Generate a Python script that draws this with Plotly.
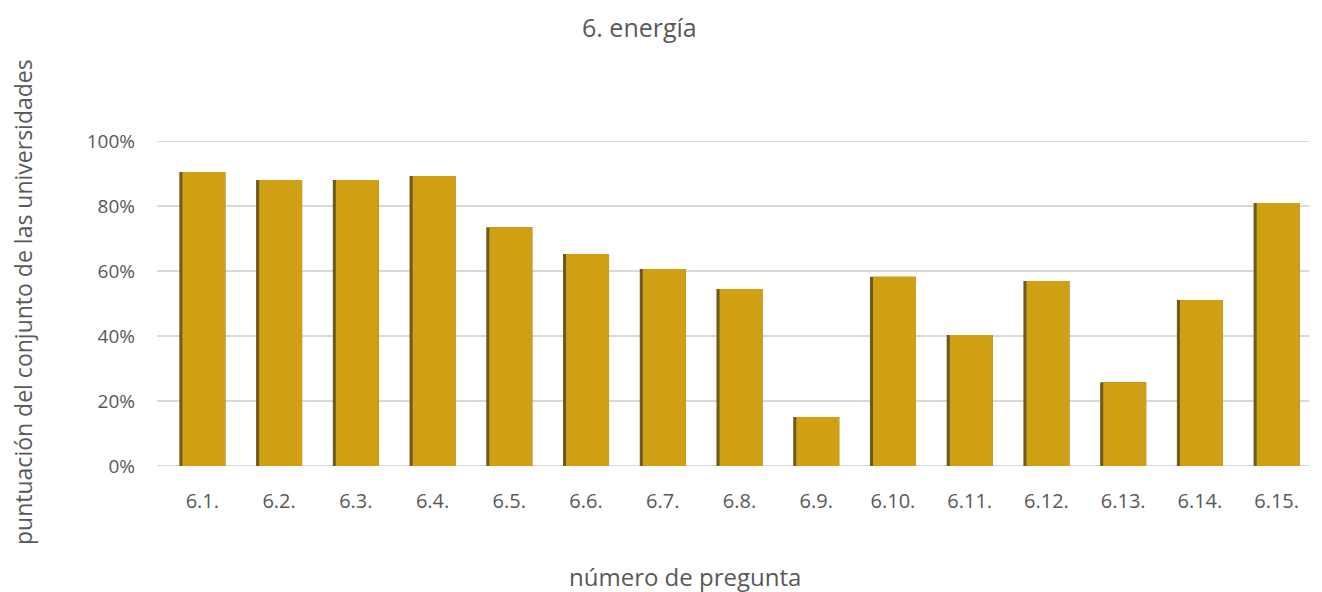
import plotly.graph_objects as go

categories = ["6.1.", "6.2.", "6.3.", "6.4.", "6.5.", "6.6.", "6.7.", "6.8.", "6.9.",
              "6.10.", "6.11.", "6.12.", "6.13.", "6.14.", "6.15."]
values = [0.905, 0.880, 0.880, 0.892, 0.735, 0.652, 0.606, 0.545, 0.151,
          0.582, 0.403, 0.569, 0.258, 0.511, 0.809]
y_ticks = [0, 0.2, 0.4, 0.6, 0.8, 1.0]
y_tick_labels = ["0%", "20%", "40%", "60%", "80%", "100%"]

gold = "#D0A014"
shadow = "#6E5A1E"
text_col = "#595959"
font_family = "'Open Sans', Lato, sans-serif"

bw = 0.60
sh = 0.04

fig = go.Figure()
fig.add_trace(go.Bar(x=categories, y=values, marker=dict(color=shadow, line=dict(width=0)),
                     width=bw, offset=-bw / 2, hoverinfo="skip", showlegend=False))
fig.add_trace(go.Bar(x=categories, y=values, marker=dict(color=gold, line=dict(width=0)),
                     width=bw - sh, offset=-bw / 2 + sh, showlegend=False))

shapes = [dict(type="line", xref="paper", yref="y", x0=-0.006, x1=0.995, y0=t, y1=t,
               line=dict(color="#D9D9D9", width=2), layer="below") for t in y_ticks]

fig.update_layout(
    width=1322, height=592,
    barmode="overlay",
    plot_bgcolor="white", paper_bgcolor="white",
    margin=dict(l=156, r=15, t=133, b=134),
    font=dict(family=font_family, color=text_col, size=16),
    shapes=shapes,
    xaxis=dict(showgrid=False, showline=False, ticks="", tickfont=dict(size=20),
               ticklabelstandoff=21),
    yaxis=dict(range=[0, 1.0], tickvals=y_ticks, ticktext=y_tick_labels,
               showgrid=False, zeroline=False,
               showline=False, ticks="", tickfont=dict(size=19), ticklabelstandoff=28),
    annotations=[
        dict(text="6. energía", xref="paper", yref="paper", x=(631 - 156) / 1151,
             y=1 + (133 - 19) / 325, xanchor="center", yanchor="middle", showarrow=False,
             font=dict(size=25, color=text_col)),
        dict(text="número de pregunta", xref="paper", yref="paper", x=(677 - 156) / 1151,
             y=-(568 - 458) / 325, xanchor="center", yanchor="middle", showarrow=False,
             font=dict(size=24, color=text_col)),
        dict(text="puntuación del conjunto de las universidades", xref="paper", yref="paper",
             x=-(156 - 15) / 1151, y=0.5 + (295.5 - 294) / 325, xanchor="center",
             yanchor="middle", textangle=-90, showarrow=False,
             font=dict(size=23, color=text_col)),
    ],
)

fig.write_html("out.html")
